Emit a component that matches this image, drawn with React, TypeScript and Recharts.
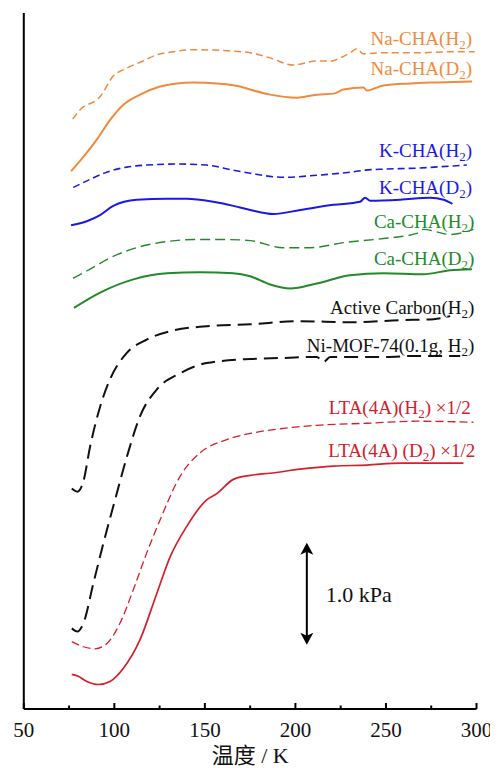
import React from 'react';
import { LineChart, Line, XAxis, YAxis, ReferenceDot, ReferenceLine } from 'recharts';

// temperature (K) vs. pressure (kPa, curves offset vertically)
const naChaH2 = [
  { t: 77, v: 5.78 }, { t: 81, v: 5.87 }, { t: 92.1, v: 6.0 }, { t: 99.3, v: 6.2 }, { t: 106.9, v: 6.28 },
  { t: 115.9, v: 6.35 }, { t: 123.4, v: 6.41 }, { t: 132.4, v: 6.44 }, { t: 143.5, v: 6.46 }, { t: 162.3, v: 6.45 },
  { t: 175, v: 6.43 }, { t: 186, v: 6.38 }, { t: 198.7, v: 6.31 }, { t: 211.8, v: 6.35 }, { t: 220.1, v: 6.35 },
  { t: 224.7, v: 6.38 }, { t: 230.2, v: 6.43 }, { t: 233.9, v: 6.47 }, { t: 237.4, v: 6.42 }, { t: 248.5, v: 6.43 },
  { t: 267.1, v: 6.43 }, { t: 285.5, v: 6.44 }, { t: 299, v: 6.44 },
];
const naChaD2 = [
  { t: 76.1, v: 5.27 }, { t: 82.9, v: 5.41 }, { t: 90.3, v: 5.58 }, { t: 97.6, v: 5.77 }, { t: 105, v: 5.92 },
  { t: 114.2, v: 6.02 }, { t: 125.2, v: 6.1 }, { t: 134.5, v: 6.13 }, { t: 143.6, v: 6.14 }, { t: 156.6, v: 6.13 },
  { t: 169.4, v: 6.1 }, { t: 175, v: 6.07 }, { t: 186, v: 6.02 }, { t: 200.8, v: 5.99 }, { t: 211.8, v: 6.02 },
  { t: 221, v: 6.03 }, { t: 226.5, v: 6.07 }, { t: 237.6, v: 6.09 }, { t: 239.4, v: 6.06 }, { t: 248.6, v: 6.11 },
  { t: 263.4, v: 6.13 }, { t: 278.1, v: 6.14 }, { t: 297.5, v: 6.15 },
];
const kChaH2 = [
  { t: 77.3, v: 5.11 }, { t: 86.6, v: 5.19 }, { t: 95.8, v: 5.26 }, { t: 106.9, v: 5.31 }, { t: 117.9, v: 5.33 },
  { t: 136.3, v: 5.34 }, { t: 151, v: 5.33 }, { t: 165.7, v: 5.28 }, { t: 175, v: 5.25 }, { t: 193.4, v: 5.21 },
  { t: 211.8, v: 5.23 }, { t: 230.2, v: 5.26 }, { t: 238.5, v: 5.28 }, { t: 248.6, v: 5.29 }, { t: 267.1, v: 5.3 },
  { t: 285.5, v: 5.32 }, { t: 294.7, v: 5.33 },
];
const kChaD2 = [
  { t: 76.1, v: 4.74 }, { t: 84.8, v: 4.78 }, { t: 92.1, v: 4.84 }, { t: 99.4, v: 4.93 }, { t: 112.4, v: 4.99 },
  { t: 129, v: 5.0 }, { t: 140, v: 5.0 }, { t: 154.7, v: 4.97 }, { t: 165.7, v: 4.93 }, { t: 175, v: 4.89 },
  { t: 187.8, v: 4.85 }, { t: 202.6, v: 4.89 }, { t: 221, v: 4.94 }, { t: 235.7, v: 4.97 }, { t: 238.5, v: 5.01 },
  { t: 241.3, v: 4.98 }, { t: 257.9, v: 4.99 }, { t: 274.4, v: 5.01 }, { t: 281.8, v: 4.99 }, { t: 286.7, v: 4.95 },
];
const caChaH2 = [
  { t: 77.2, v: 4.22 }, { t: 86.6, v: 4.31 }, { t: 97.6, v: 4.42 }, { t: 114.2, v: 4.53 }, { t: 129, v: 4.58 },
  { t: 143.6, v: 4.6 }, { t: 162.1, v: 4.6 }, { t: 175, v: 4.59 }, { t: 193.4, v: 4.52 }, { t: 208.1, v: 4.52 },
  { t: 226.5, v: 4.57 }, { t: 248.6, v: 4.61 }, { t: 267.1, v: 4.66 }, { t: 270.6, v: 4.7 }, { t: 285.5, v: 4.65 },
  { t: 298.3, v: 4.7 },
];
const caChaD2 = [
  { t: 77.7, v: 3.93 }, { t: 92.1, v: 4.08 }, { t: 110.5, v: 4.21 }, { t: 129, v: 4.27 }, { t: 147.3, v: 4.28 },
  { t: 165.7, v: 4.27 }, { t: 175, v: 4.24 }, { t: 186, v: 4.16 }, { t: 197.1, v: 4.12 }, { t: 211.8, v: 4.17 },
  { t: 230.2, v: 4.25 }, { t: 248.6, v: 4.27 }, { t: 270.7, v: 4.26 }, { t: 285.5, v: 4.3 }, { t: 297.5, v: 4.31 },
];
const activeCarbonH2 = [
  { t: 76.5, v: 2.16 }, { t: 79.6, v: 2.13 }, { t: 82.9, v: 2.23 }, { t: 86.6, v: 2.57 }, { t: 92.1, v: 2.96 },
  { t: 97.6, v: 3.23 }, { t: 106.9, v: 3.49 }, { t: 117.9, v: 3.62 }, { t: 132.6, v: 3.71 }, { t: 151, v: 3.75 },
  { t: 175, v: 3.77 }, { t: 202.6, v: 3.8 }, { t: 230.2, v: 3.79 }, { t: 257.9, v: 3.81 }, { t: 276.3, v: 3.82 },
  { t: 285.5, v: 3.85 },
];
const niMofH2 = [
  { t: 76.5, v: 0.79 }, { t: 79.6, v: 0.76 }, { t: 82.9, v: 0.84 }, { t: 88.4, v: 1.23 }, { t: 93.9, v: 1.62 },
  { t: 100.4, v: 2.05 }, { t: 106.9, v: 2.47 }, { t: 114.2, v: 2.87 }, { t: 123.4, v: 3.13 }, { t: 136.3, v: 3.29 },
  { t: 151, v: 3.39 }, { t: 175, v: 3.43 }, { t: 193.4, v: 3.44 }, { t: 211.8, v: 3.45 }, { t: 215.5, v: 3.4 },
  { t: 219.2, v: 3.45 }, { t: 248.6, v: 3.45 }, { t: 267.1, v: 3.46 }, { t: 291, v: 3.46 },
];
const ltaH2 = [
  { t: 76.5, v: 0.66 }, { t: 82.9, v: 0.61 }, { t: 89.3, v: 0.59 }, { t: 95.8, v: 0.64 }, { t: 103.1, v: 0.84 },
  { t: 110.5, v: 1.17 }, { t: 117.9, v: 1.53 }, { t: 125.2, v: 1.85 }, { t: 136.3, v: 2.28 }, { t: 147.3, v: 2.51 },
  { t: 162.1, v: 2.64 }, { t: 175, v: 2.7 }, { t: 193.4, v: 2.75 }, { t: 211.8, v: 2.78 }, { t: 239.4, v: 2.8 },
  { t: 267.1, v: 2.82 }, { t: 298.3, v: 2.81 },
];
const ltaD2 = [
  { t: 76.5, v: 0.34 }, { t: 80.1, v: 0.32 }, { t: 84.8, v: 0.27 }, { t: 91.2, v: 0.24 }, { t: 97.6, v: 0.27 },
  { t: 105, v: 0.4 }, { t: 114.2, v: 0.68 }, { t: 123.4, v: 1.13 }, { t: 130.8, v: 1.49 }, { t: 140, v: 1.79 },
  { t: 151, v: 2.05 }, { t: 156.6, v: 2.11 }, { t: 165.7, v: 2.25 }, { t: 175, v: 2.29 }, { t: 186, v: 2.31 },
  { t: 202.6, v: 2.35 }, { t: 221, v: 2.38 }, { t: 239.4, v: 2.39 }, { t: 257.9, v: 2.41 }, { t: 292.8, v: 2.41 },
];

const xTicks = [50, 75, 100, 125, 150, 175, 200, 225, 250, 275, 300];

// label text ("_2" = subscript) and where its right end / baseline sits
const labelNames = [
  'Na-CHA(H_2)', 'Na-CHA(D_2)', 'K-CHA(H_2)', 'K-CHA(D_2)', 'Ca-CHA(H_2)', 'Ca-CHA(D_2)',
  'Active Carbon(H_2)', 'Ni-MOF-74(0.1g, H_2)', 'LTA(4A)(H_2) ×1/2', 'LTA(4A) (D_2) ×1/2',
];
const labelT = [297.5, 297.5, 297.5, 297.5, 298.8, 298.8, 298.8, 298.8, 296.9, 299.3];
const labelV = [6.51, 6.21, 5.41, 5.05, 4.71, 4.35, 3.87, 3.5, 2.89, 2.47];

const scaleBar = { t: 206.3, from: 0.63, to: 1.63, text: '1.0 kPa' };

const ORANGE = '#f08a3e';
const BLUE = '#1a1ae6';
const GREEN = '#238a2a';
const BLACK = '#111111';
const RED = '#d3202a';
const SERIF = "'Liberation Serif', 'Times New Roman', serif";

const series = [
  { data: naChaH2, color: ORANGE, dash: '7 4', w: 1.5 },
  { data: naChaD2, color: ORANGE, dash: undefined, w: 2 },
  { data: kChaH2, color: BLUE, dash: '7 4', w: 1.6 },
  { data: kChaD2, color: BLUE, dash: undefined, w: 2 },
  { data: caChaH2, color: GREEN, dash: '10 5', w: 1.4 },
  { data: caChaD2, color: GREEN, dash: undefined, w: 2 },
  { data: activeCarbonH2, color: BLACK, dash: '14 7', w: 2 },
  { data: niMofH2, color: BLACK, dash: '14 7', w: 2 },
  { data: ltaH2, color: RED, dash: '8 4', w: 1.3 },
  { data: ltaD2, color: RED, dash: undefined, w: 1.7 },
];

function TempTick(props: any) {
  const { x, y, payload } = props;
  const major = payload.value % 50 === 0;
  return (
    <g>
      <line x1={x} x2={x} y1={y} y2={y - (major ? 6 : 3.5)} stroke="#000" strokeWidth={2} />
      {major && (
        <text x={x} y={y + 28} textAnchor="middle" fontSize={21} fontFamily={SERIF} fill="#111">
          {payload.value}
        </text>
      )}
    </g>
  );
}

const seriesLabel = (name: string, color: string) => (p: any) => {
  const parts = name.split(/_(\d)/);
  return (
    <text x={p.cx} y={p.cy} textAnchor="end" fontSize={19} fontFamily={SERIF} fill={color}>
      {parts.map((s, i) => {
        if (i % 2 === 1) {
          return <tspan key={i} dy={4} fontSize={13}>{s}</tspan>;
        }
        return <tspan key={i} dy={i > 0 ? -4 : 0}>{s}</tspan>;
      })}
    </text>
  );
};

function ScaleArrow(p: any) {
  const x = p.x1;
  const top = Math.min(p.y1, p.y2);
  const bot = Math.max(p.y1, p.y2);
  return (
    <g>
      <line x1={x} x2={x} y1={top + 6} y2={bot - 6} stroke="#000" strokeWidth={2} />
      <polygon points={`${x},${top} ${x - 6.5},${top + 12} ${x},${top + 9} ${x + 6.5},${top + 12}`} fill="#000" />
      <polygon points={`${x},${bot} ${x - 6.5},${bot - 12} ${x},${bot - 9} ${x + 6.5},${bot - 12}`} fill="#000" />
      <text x={x + 19} y={(top + bot) / 2 + 8} fontSize={22} fontFamily={SERIF} fill="#111">
        {scaleBar.text}
      </text>
    </g>
  );
}

export default function App() {
  return (
    <div style={{ width: 490, height: 760 }}>
      <LineChart width={490} height={760} margin={{ top: 5, right: 21.5, bottom: 0, left: 14.8 }}>
        <XAxis
          type="number"
          dataKey="t"
          domain={[50, 300]}
          ticks={xTicks}
          interval={0}
          tick={<TempTick />}
          tickLine={false}
          tickSize={0}
          tickMargin={0}
          height={59}
          axisLine={{ stroke: '#000', strokeWidth: 2 }}
          label={{ value: '温度 / K', position: 'insideBottom', offset: 5, fontSize: 22, fontFamily: "'Liberation Serif', 'Noto Sans CJK SC', serif", fill: '#111' }}
        />
        <YAxis
          type="number"
          dataKey="v"
          domain={[0, 6.82]}
          allowDataOverflow
          width={1}
          tick={false}
          tickLine={false}
          axisLine={{ stroke: '#000', strokeWidth: 2 }}
        />
        {series.map((s, i) => (
          <Line
            key={i}
            data={s.data}
            dataKey="v"
            type="monotone"
            stroke={s.color}
            strokeWidth={s.w}
            strokeDasharray={s.dash}
            dot={false}
            activeDot={false}
            isAnimationActive={false}
          />
        ))}
        {labelNames.map((name, i) => (
          <ReferenceDot
            key={name}
            x={labelT[i]}
            y={labelV[i]}
            r={0}
            shape={seriesLabel(name, series[i].color)}
          />
        ))}
        <ReferenceLine
          segment={[{ x: scaleBar.t, y: scaleBar.from }, { x: scaleBar.t, y: scaleBar.to }]}
          shape={<ScaleArrow />}
        />
      </LineChart>
    </div>
  );
}
